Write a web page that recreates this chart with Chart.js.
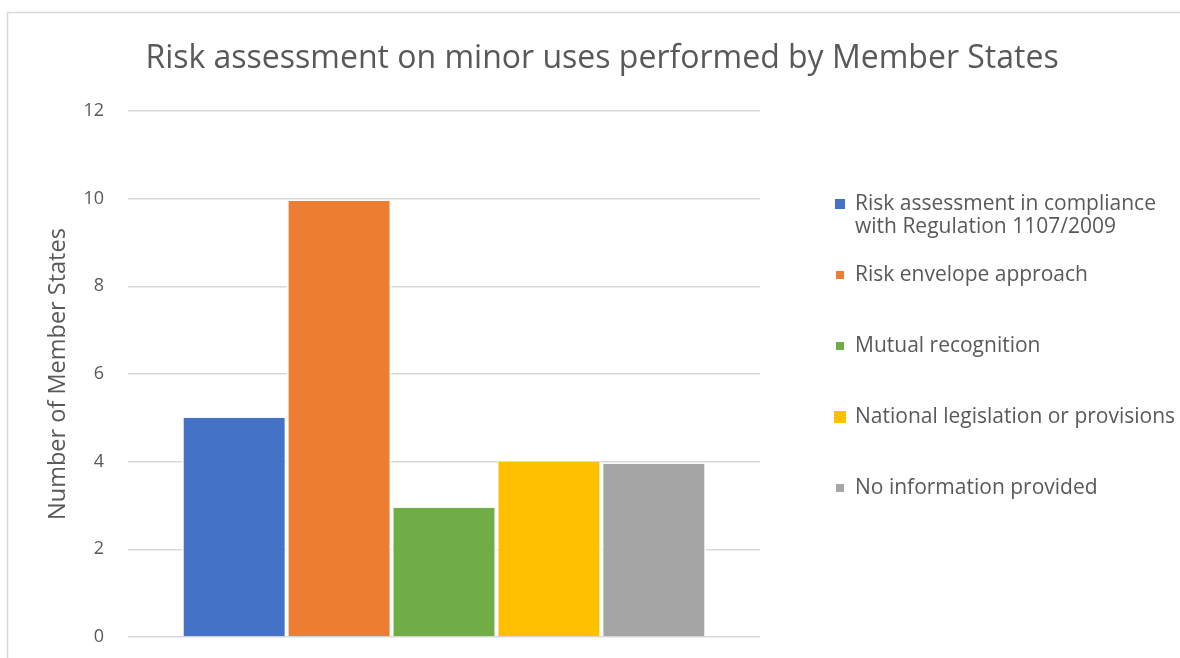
<!DOCTYPE html>
<html>
<head>
<meta charset="utf-8">
<title>Risk assessment on minor uses</title>
<script src="https://cdn.jsdelivr.net/npm/chart.js@4.4.1/dist/chart.umd.min.js"></script>
<style>
  html, body { margin: 0; padding: 0; background: #fff; }
  #wrap { width: 1180px; height: 658px; position: relative; }
</style>
</head>
<body>
<div id="wrap"><canvas id="chart" width="1180" height="658"></canvas></div>
<script>
// Methods used by Member States for minor use risk assessment
const methods = [
    ['Risk assessment in compliance', 'with Regulation 1107/2009'],
    'Risk envelope approach',
    'Mutual recognition',
    'National legislation or provisions',
    'No information provided'
];
const memberStates = [5, 9.95, 2.95, 4, 3.95];
const methodColors = ['#4472C4', '#ED7D31', '#70AD47', '#FFC000', '#A5A5A5'];
const legendBoxSizes = [10, 8, 8, 12, 8];
const yTicks = [0, 2, 4, 6, 8, 10, 12];
const chartTitle = 'Risk assessment on minor uses performed by Member States';

const textColor = '#595959';
const fontFamily = '"Open Sans", "Noto Sans", sans-serif';

// Rahmen und Titel über die ganze Breite
const framePlugin = {
    id: 'frame',
    beforeDraw(chart) {
        const ctx = chart.ctx;
        ctx.save();
        ctx.strokeStyle = '#D9D9D9';
        ctx.lineWidth = 1.5;
        ctx.beginPath();
        ctx.moveTo(chart.width, 12.5);
        ctx.lineTo(7.5, 12.5);
        ctx.lineTo(7.5, chart.height);
        ctx.stroke();

        ctx.fillStyle = textColor;
        ctx.font = '32px ' + fontFamily;
        ctx.textAlign = 'center';
        ctx.textBaseline = 'alphabetic';
        ctx.fillText(chartTitle, 602, 68);
        ctx.restore();
    }
};

// Legende rechts neben der Zeichenfläche
const sideLegend = {
    id: 'sideLegend',
    afterDraw(chart) {
        const ctx = chart.ctx;
        const boxX = 840;
        const textX = 855;
        const startY = 204;
        const step = 71;
        const lineHeight = 23;
        ctx.save();
        ctx.font = '21px ' + fontFamily;
        ctx.textBaseline = 'middle';
        ctx.textAlign = 'left';
        chart.data.datasets.forEach((ds, i) => {
            const y = startY + i * step;
            const s = legendBoxSizes[i];
            ctx.fillStyle = ds.backgroundColor;
            ctx.fillRect(boxX - s / 2, y - s / 2, s, s);
            ctx.fillStyle = textColor;
            const lines = Array.isArray(ds.label) ? ds.label : [ds.label];
            lines.forEach((line, j) => ctx.fillText(line, textX, y + j * lineHeight));
        });
        ctx.restore();
    }
};

const datasets = methods.map((label, i) => ({
    label: label,
    data: [memberStates[i]],
    backgroundColor: methodColors[i],
    borderColor: '#FFFFFF',
    borderWidth: { left: 2, right: 2, top: 0, bottom: 0 },
    borderSkipped: false,
    barPercentage: 1,
    categoryPercentage: 0.83
}));

new Chart(document.getElementById('chart'), {
    type: 'bar',
    data: { labels: [''], datasets: datasets },
    options: {
        responsive: false,
        animation: false,
        layout: { padding: { left: 10, right: 420, top: 111, bottom: 21 } },
        plugins: {
            legend: { display: false },
            tooltip: { enabled: false },
            title: { display: false }
        },
        scales: {
            x: { display: false },
            y: {
                min: 0,
                max: 12,
                afterFit(scale) {
                    // feste Breite, keine zusätzliche Polsterung oben/unten
                    scale.width = 118;
                    scale.paddingTop = 0;
                    scale.paddingBottom = 0;
                },
                afterBuildTicks(scale) { scale.ticks = yTicks.map(v => ({ value: v })); },
                border: { display: false },
                grid: { color: '#D9D9D9', lineWidth: 1.5, drawTicks: false },
                ticks: {
                    color: textColor,
                    padding: 24,
                    font: { family: fontFamily, size: 18 }
                },
                title: {
                    display: true,
                    text: 'Number of Member States',
                    color: textColor,
                    font: { family: fontFamily, size: 23.5 },
                    padding: { top: 34, bottom: 0 }
                }
            }
        }
    },
    plugins: [framePlugin, sideLegend]
});
</script>
</body>
</html>
